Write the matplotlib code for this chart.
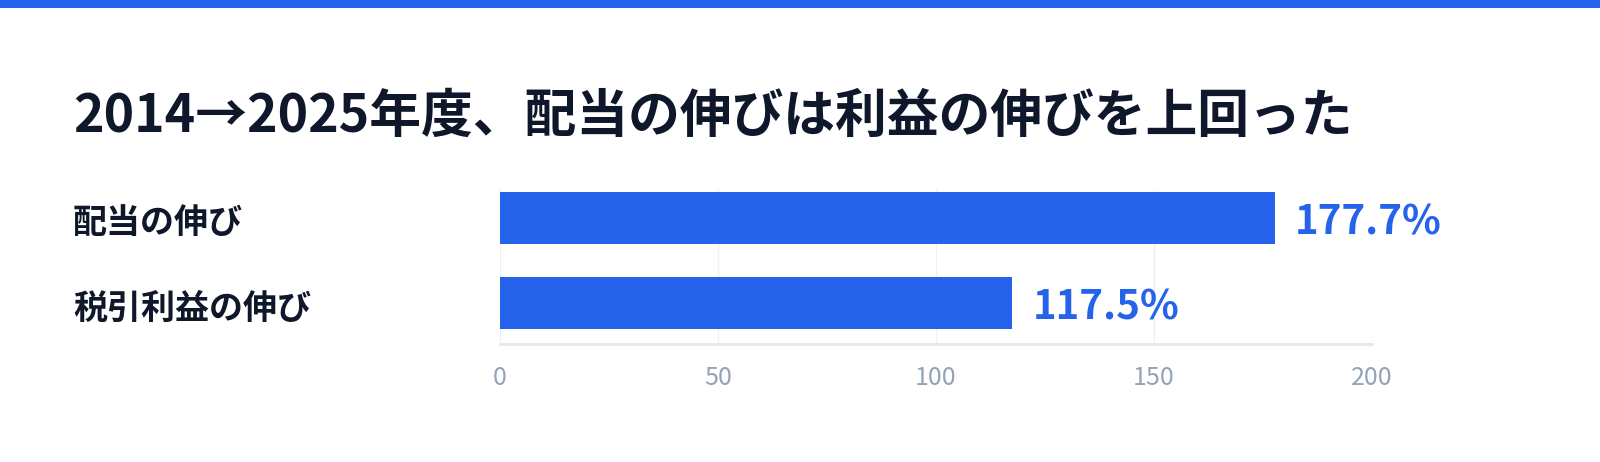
import matplotlib
matplotlib.use("Agg")
import matplotlib.pyplot as plt
import matplotlib.transforms as mtransforms
from matplotlib.patches import Rectangle

plt.rcParams['font.family'] = ['Noto Sans CJK JP', 'DejaVu Sans']

title = "2014→2025年度、配当の伸びは利益の伸びを上回った"
categories = ["配当の伸び", "税引利益の伸び"]
values = [177.7, 117.5]
value_labels = ["177.7%", "117.5%"]
xticks = [0, 50, 100, 150, 200]

BLUE = "#2563EB"
DARK = "#0F172A"
GRAY = "#94A3B8"

W, H = 1600, 462
fig = plt.figure(figsize=(W / 100, H / 100), dpi=100)
fig.patch.set_facecolor("white")

# top accent stripe
fig.add_artist(Rectangle((0, 1 - 8 / H), 1, 8 / H, transform=fig.transFigure,
                         color=BLUE, lw=0))

# axes: x from 500px to 1372px, y from 190px to 344px
ax_left, ax_right = 500 / W, 1372 / W
ax_top, ax_bot = 190 / H, 344 / H
ax = fig.add_axes([ax_left, 1 - ax_bot, ax_right - ax_left, ax_bot - ax_top])

ypos = list(range(len(categories)))
ax.barh(ypos, values, height=0.608, color=BLUE, zorder=3)
ax.set_xlim(0, 200)
ax.set_ylim(1.474, -0.327)

ax.set_xticks(xticks)
ax.set_xticklabels([str(t) for t in xticks])
ax.tick_params(axis='x', length=0, pad=15, labelsize=18, labelcolor=GRAY)
ax.tick_params(axis='y', length=0, labelleft=False)
ax.grid(axis='x', color="#EEF0F5", lw=1, zorder=0)
for s in ["top", "right", "left"]:
    ax.spines[s].set_visible(False)
ax.spines["bottom"].set_color("#E2E8F0")
ax.spines["bottom"].set_linewidth(2)

for y, v, lab in zip(ypos, values, value_labels):
    ax.annotate(lab, xy=(v, y), xytext=(20, -5), textcoords="offset pixels",
                ha="left", va="center", color=BLUE, fontsize=29,
                fontweight="bold", zorder=4)

trans = mtransforms.blended_transform_factory(fig.transFigure, ax.transData) + \
    mtransforms.ScaledTranslation(0, -5 / 100, fig.dpi_scale_trans)
for y, cat in zip(ypos, categories):
    ax.text(73 / W, y, cat, transform=trans,
            ha="left", va="center", color=DARK, fontsize=24.5, fontweight="bold")

fig.text(73 / W, 1 - 116 / H, title, ha="left", va="center", color=DARK,
         fontsize=37.3, fontweight="bold")

fig.savefig("out.png", dpi=100, facecolor="white")
